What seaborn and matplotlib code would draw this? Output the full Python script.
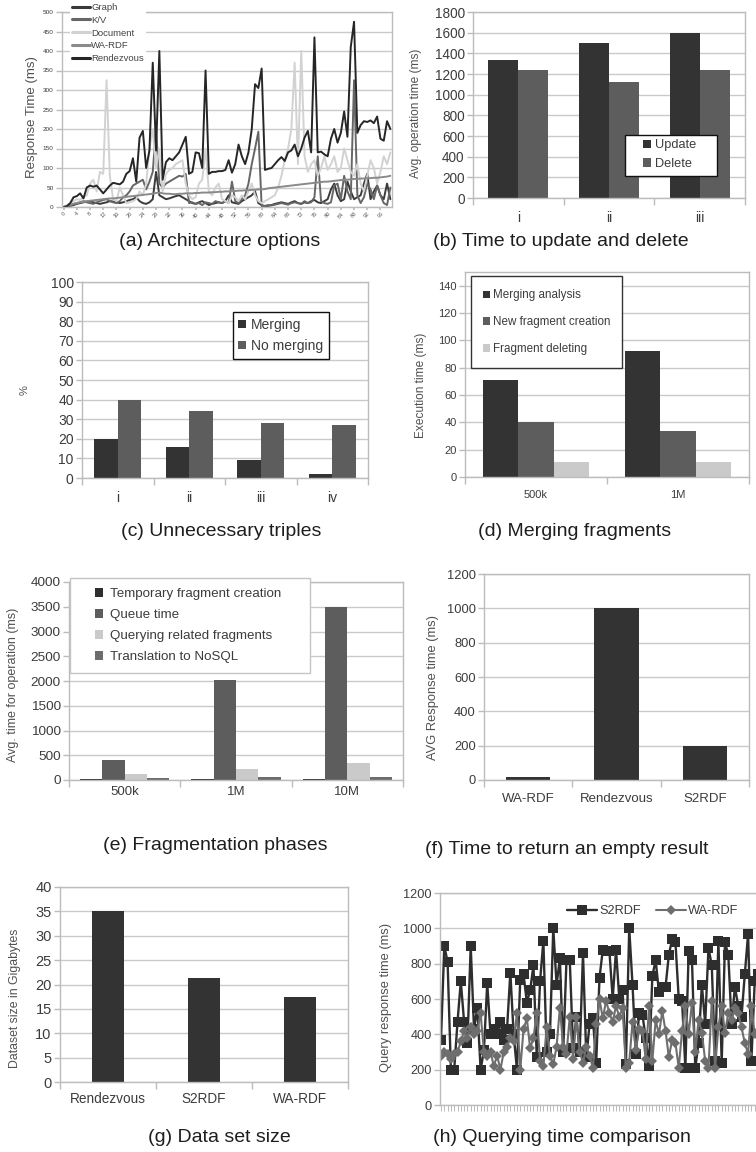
import numpy as np
import pandas as pd
import matplotlib
matplotlib.use("Agg")
import matplotlib.pyplot as plt
from matplotlib.patches import Rectangle
import seaborn as sns

# ---------------- data ----------------
# (a) Architecture options: response time per query (ms)
arch_series = ["Graph", "K/V", "Document", "WA-RDF", "Rendezvous"]
graph_ms = [0, 1, 3, 5, 8, 10, 12, 14, 15, 12,
            10, 8, 10, 12, 15, 14, 12, 10, 12, 15,
            18, 20, 25, 15, 10, 8, 12, 20, 90, 30,
            25, 20, 22, 25, 28, 30, 25, 20, 15, 10,
            8, 12, 15, 10, 5, 8, 10, 12, 10, 15,
            30, 12, 10, 8, 15, 20, 25, 30, 40, 10,
            5, 2, 3, 5, 8, 10, 12, 10, 8, 12,
            15, 10, 8, 12, 10, 15, 18, 12, 10, 15,
            20, 45, 60, 30, 15, 20, 65, 40, 20, 25,
            30, 60, 85, 20, 40, 55, 30, 20, 60, 20]
kv_ms = [0, 2, 5, 8, 10, 12, 15, 12, 10, 8,
         12, 15, 18, 20, 15, 12, 10, 15, 25, 30,
         40, 55, 60, 65, 70, 45, 65, 90, 200, 60,
         50, 60, 65, 70, 75, 80, 78, 85, 10, 12,
         8, 10, 5, 12, 10, 8, 15, 12, 10, 15,
         10, 65, 15, 10, 20, 30, 60, 110, 150, 193,
         2, 3, 5, 4, 6, 8, 10, 8, 6, 10,
         12, 10, 8, 15, 10, 12, 25, 130, 15, 10,
         8, 12, 55, 60, 20, 80, 40, 20, 325, 30,
         10, 25, 60, 45, 20, 55, 30, 10, 5, 50]
document_ms = [0, 5, 10, 15, 20, 18, 25, 30, 60, 70,
               40, 90, 85, 325, 80, 20, 15, 50, 30, 10,
               12, 15, 20, 40, 30, 60, 150, 200, 100, 150,
               40, 85, 95, 100, 110, 115, 120, 60, 30, 20,
               25, 60, 70, 150, 40, 30, 50, 60, 20, 15,
               10, 30, 25, 15, 30, 20, 40, 60, 30, 15,
               10, 15, 20, 25, 30, 50, 80, 120, 150, 200,
               370, 110, 400, 130, 90, 110, 120, 80, 100, 130,
               95, 110, 130, 90, 100, 150, 120, 90, 80, 110,
               60, 40, 80, 120, 100, 60, 90, 130, 110, 140]
wardf_arch_ms = [0, 2, 5, 8, 10, 12, 13, 15, 16, 17,
                 18, 19, 20, 21, 22, 22, 23, 24, 25, 26,
                 27, 28, 29, 30, 31, 32, 33, 34, 36, 37,
                 35, 34, 34, 33, 33, 34, 34, 35, 35, 35,
                 36, 36, 37, 37, 37, 38, 38, 39, 39, 40,
                 40, 41, 41, 42, 42, 43, 43, 44, 44, 45,
                 45, 46, 48, 49, 50, 51, 52, 53, 54, 55,
                 56, 57, 58, 59, 60, 61, 62, 63, 64, 65,
                 65, 66, 67, 68, 69, 70, 70, 71, 72, 72,
                 73, 73, 74, 74, 75, 75, 76, 77, 78, 80]
rendezvous_ms = [0, 2, 10, 25, 28, 35, 22, 50, 55, 52,
                 55, 45, 35, 45, 55, 62, 60, 58, 65, 85,
                 92, 125, 65, 178, 195, 100, 145, 370, 145, 400,
                 70, 115, 125, 120, 130, 140, 160, 180, 85, 90,
                 140, 138, 100, 350, 85, 90, 90, 92, 92, 95,
                 120, 88, 110, 160, 130, 110, 140, 200, 315, 305,
                 355, 95, 98, 100, 110, 120, 128, 118, 140, 145,
                 160, 130, 150, 178, 195, 140, 435, 140, 142, 135,
                 130, 175, 200, 165, 190, 245, 180, 410, 475, 190,
                 210, 220, 218, 222, 215, 232, 175, 170, 220, 200]

# (b) Time to update and delete
ops_cats = ["i", "ii", "iii"]
update_ms = [1340, 1500, 1600]
delete_ms = [1235, 1125, 1235]

# (c) Unnecessary triples
triple_cats = ["i", "ii", "iii", "iv"]
merging_pct = [20, 16, 9, 2]
no_merging_pct = [40, 34, 28, 27]

# (d) Merging fragments
merge_sizes = ["500k", "1M"]
merging_analysis_ms = [71, 92]
new_fragment_ms = [40, 34]
fragment_deleting_ms = [11, 11]

# (e) Fragmentation phases
frag_sizes = ["500k", "1M", "10M"]
temp_fragment_ms = [20, 20, 25]
queue_ms = [400, 2020, 3500]
querying_related_ms = [120, 230, 350]
translation_ms = [50, 60, 55]

# (f) Time to return an empty result
empty_systems = ["WA-RDF", "Rendezvous", "S2RDF"]
empty_ms = [20, 1000, 200]

# (g) Data set size
size_systems = ["Rendezvous", "S2RDF", "WA-RDF"]
size_gb = [35, 21.3, 17.4]

# (h) Querying time comparison
s2rdf_ms = [370, 900, 810, 200, 200, 470, 700, 470, 350, 900,
            430, 550, 200, 310, 690, 400, 430, 400, 470, 370,
            430, 750, 400, 200, 710, 740, 580, 650, 790, 270,
            700, 930, 300, 400, 1000, 680, 830, 300, 820, 820,
            320, 500, 300, 860, 270, 460, 490, 240, 720, 880,
            870, 870, 600, 880, 600, 650, 230, 1000, 680, 290,
            520, 510, 380, 220, 730, 820, 640, 670, 670, 850,
            940, 920, 600, 590, 210, 870, 820, 210, 350, 680,
            460, 890, 790, 250, 930, 240, 920, 850, 460, 670,
            560, 500, 740, 970, 250, 700, 740]
wardf_ms = [280, 300, 290, 260, 290, 300, 360, 420, 380, 440,
            400, 420, 520, 300, 280, 300, 220, 280, 200, 300,
            330, 380, 360, 520, 200, 430, 490, 320, 380, 520,
            250, 220, 440, 280, 230, 330, 550, 330, 290, 500,
            260, 500, 300, 240, 330, 280, 210, 460, 600, 490,
            590, 520, 470, 560, 500, 550, 210, 240, 470, 310,
            430, 420, 260, 560, 250, 480, 400, 530, 420, 270,
            370, 350, 210, 420, 560, 400, 580, 300, 480, 410,
            250, 210, 590, 210, 440, 560, 410, 520, 480, 550,
            520, 440, 350, 290, 560, 400, 420]

# ---------------- style ----------------
sns.set_theme(style="white")
plt.rcParams["font.family"] = ["Liberation Sans", "DejaVu Sans"]

W, H = 756, 1152
fig = plt.figure(figsize=(W / 100, H / 100), dpi=100)
fig.patch.set_facecolor("white")

GRID = "#cacaca"
FRAME = "#bcbcbc"
TXT = "#3c3c3c"
DARK = "#333333"
MID = "#5d5d5d"
LIGHT = "#cacaca"


def px_axes(x0, y0, x1, y1):
    return fig.add_axes([x0 / W, 1 - y1 / H, (x1 - x0) / W, (y1 - y0) / H])


def y_style(ax, ymax, yticks, fs):
    ax.set_ylim(0, ymax)
    ax.set_yticks(yticks)
    ax.yaxis.grid(True, color=GRID, lw=1)
    ax.xaxis.grid(False)
    ax.set_axisbelow(True)
    for s in ax.spines.values():
        s.set_color(FRAME)
        s.set_linewidth(1)
    ax.tick_params(axis="y", left=True, length=4, width=1, color=FRAME,
                   labelsize=fs, labelcolor=TXT, pad=2)


def cat_axis(ax, n, fs, pad):
    ax.set_xlim(-0.5, n - 0.5)
    ax.set_xticks(np.arange(-0.5, n), minor=True)
    ax.tick_params(axis="x", which="minor", bottom=True, length=5, width=1,
                   color=FRAME)
    ax.tick_params(axis="x", which="major", bottom=False, length=0,
                   labelsize=fs, labelcolor=TXT, pad=pad)
    ax.set_xlabel("")


def ylabel_at(ax, text, fs, xc, yc, box):
    x0, y0, x1, y1 = box
    ax.set_ylabel(text, fontsize=fs, color="#505050", va="center")
    ax.yaxis.set_label_coords((xc - x0) / (x1 - x0), (y1 - yc) / (y1 - y0))


def grouped_bars(ax, cats, names, values, colors, width):
    rows = [(c, nm, v) for nm, vals in zip(names, values) for c, v in zip(cats, vals)]
    df = pd.DataFrame(rows, columns=["cat", "series", "val"])
    sns.barplot(data=df, x="cat", y="val", hue="series", order=cats,
                hue_order=names, palette=colors, width=width, saturation=1,
                edgecolor="none", linewidth=0, errorbar=None, ax=ax)


def box_legend(ax, frame_px, marker_x, center_y, fs, row_px, mark_px, text_gap,
               edge, lw=1.0):
    """Square-marker legend inside a hand-placed rectangular frame (pixel units)."""
    old = ax.get_legend()
    handles = old.legend_handles
    labels = [t.get_text() for t in old.get_texts()]
    fs_px = fs * 100 / 72
    leg = ax.legend(handles, labels, loc="center left",
                    bbox_to_anchor=(marker_x / W, 1 - center_y / H),
                    bbox_transform=fig.transFigure, fontsize=fs, frameon=False,
                    handlelength=mark_px / fs_px, handleheight=mark_px / fs_px,
                    handletextpad=text_gap / fs_px,
                    labelspacing=max(row_px - fs_px, 0) / fs_px,
                    borderpad=0, borderaxespad=0)
    for t in leg.get_texts():
        t.set_color(TXT)
    leg.set_zorder(6)
    x0, y0, x1, y1 = frame_px
    ax.add_patch(Rectangle((x0 / W, 1 - y1 / H), (x1 - x0) / W, (y1 - y0) / H,
                           transform=fig.transFigure, facecolor="white",
                           edgecolor=edge, lw=lw, zorder=5.5, clip_on=False))


def caption(x, y, text):
    fig.text(x / W, 1 - y / H, text, ha="center", va="center",
             fontsize=14, color="#1e1e1e")


# ---------------- (a) ----------------
box = (62, 12, 392, 207)
ax = px_axes(*box)
idx = np.arange(len(rendezvous_ms))
arch_values = [graph_ms, kv_ms, document_ms, wardf_arch_ms, rendezvous_ms]
arch_colors = ["#3a3a3a", "#666666", "#d2d2d2", "#8a8a8a", "#262626"]
for name, vals, col in zip(arch_series, arch_values, arch_colors):
    sns.lineplot(x=idx, y=vals, color=col, lw=1.4, label=name, ax=ax)
y_style(ax, 500, np.arange(0, 501, 50), 4.6)
ax.set_xlim(-0.5, len(idx) - 0.5)
ax.set_xticks(np.arange(0, len(idx), 4))
ax.set_xticklabels([str(i) for i in range(0, len(idx), 4)], rotation=45,
                   fontsize=4, color="#555555")
ax.tick_params(axis="x", bottom=True, length=2, color=FRAME, pad=1)
ax.set_xlabel("")
ylabel_at(ax, "Response Time (ms)", 9.5, 32, 117, box)
h, l = ax.get_legend_handles_labels()
leg = ax.legend(h, l, loc="center left", bbox_to_anchor=(70 / W, 1 - 33 / H),
                bbox_transform=fig.transFigure, fontsize=6.8, frameon=True,
                fancybox=False, edgecolor="none", facecolor="white", framealpha=1,
                handlelength=1.9, handletextpad=0.15, labelspacing=0.4,
                borderpad=0.2, borderaxespad=0)
for line in leg.get_lines():
    line.set_linewidth(2.2)
for t in leg.get_texts():
    t.set_color("#444444")
caption(220, 241, "(a) Architecture options")

# ---------------- (b) ----------------
box = (473, 12, 745, 198)
ax = px_axes(*box)
grouped_bars(ax, ops_cats, ["Update", "Delete"], [update_ms, delete_ms],
             [DARK, MID], 0.66)
y_style(ax, 1800, np.arange(0, 1801, 200), 9.8)
cat_axis(ax, len(ops_cats), 10, 9)
ylabel_at(ax, "Avg. operation time (ms)", 8.6, 416, 113, box)
box_legend(ax, (625, 135, 717, 176), 643, 154.7, 9.2, 19.3, 8, 4, "#111111")
caption(561, 242, "(b) Time to update and delete")

# ---------------- (c) ----------------
box = (82, 282, 368, 478)
ax = px_axes(*box)
grouped_bars(ax, triple_cats, ["Merging", "No merging"],
             [merging_pct, no_merging_pct], [DARK, MID], 0.66)
y_style(ax, 100, np.arange(0, 101, 10), 10)
cat_axis(ax, len(triple_cats), 10, 9)
ylabel_at(ax, "%", 8, 25, 390, box)
box_legend(ax, (233, 312, 329, 359), 238, 335.5, 10, 21, 8, 5, "#111111")
caption(221, 531, "(c) Unnecessary triples")

# ---------------- (d) ----------------
box = (465, 272, 749, 477)
ax = px_axes(*box)
grouped_bars(ax, merge_sizes,
             ["Merging analysis", "New fragment creation", "Fragment deleting"],
             [merging_analysis_ms, new_fragment_ms, fragment_deleting_ms],
             [DARK, MID, LIGHT], 0.74)
y_style(ax, 150, np.arange(0, 141, 20), 8)
cat_axis(ax, len(merge_sizes), 8, 9)
ylabel_at(ax, "Execution time (ms)", 8.6, 421, 385, box)
box_legend(ax, (471, 276, 622, 368), 483, 322.3, 8.4, 26.5, 7, 3, "#333333")
caption(575, 531, "(d) Merging fragments")

# ---------------- (e) ----------------
box = (69, 582, 403, 780)
ax = px_axes(*box)
grouped_bars(ax, frag_sizes,
             ["Temporary fragment creation", "Queue time",
              "Querying related fragments", "Translation to NoSQL"],
             [temp_fragment_ms, queue_ms, querying_related_ms, translation_ms],
             ["#2e2e2e", MID, LIGHT, "#6c6c6c"], 0.8)
y_style(ax, 4000, np.arange(0, 4001, 500), 9.7)
cat_axis(ax, len(frag_sizes), 9.5, 4)
ylabel_at(ax, "Avg. time for operation (ms)", 9, 13, 685, box)
box_legend(ax, (70, 578, 310, 673), 95, 625.7, 9.6, 22.2, 8, 7, "#c4c4c4")
caption(215, 846, "(e) Fragmentation phases")

# ---------------- (f) ----------------
box = (484, 574, 749, 780)
ax = px_axes(*box)
sns.barplot(x=empty_systems, y=empty_ms, color=DARK, saturation=1, width=0.5,
            edgecolor="none", linewidth=0, errorbar=None, ax=ax)
y_style(ax, 1200, np.arange(0, 1201, 200), 9.3)
cat_axis(ax, len(empty_systems), 9.5, 9)
ylabel_at(ax, "AVG Response time (ms)", 9.3, 433, 687, box)
caption(567, 849, "(f) Time to return an empty result")

# ---------------- (g) ----------------
box = (60, 887, 348, 1082)
ax = px_axes(*box)
sns.barplot(x=size_systems, y=size_gb, color=DARK, saturation=1, width=0.33,
            edgecolor="none", linewidth=0, errorbar=None, ax=ax)
y_style(ax, 40, np.arange(0, 41, 5), 10.5)
cat_axis(ax, len(size_systems), 9.8, 7)
ylabel_at(ax, "Dataset size in Gigabytes", 8.8, 15, 998, box)
caption(219, 1137, "(g) Data set size")

# ---------------- (h) ----------------
box = (440, 893, 866, 1105)
ax = px_axes(*box)
qidx = np.arange(len(s2rdf_ms))
sns.lineplot(x=qidx, y=s2rdf_ms, color="#2e2e2e", lw=1.7, marker="s",
             markersize=6.8, markeredgecolor="#2e2e2e", markeredgewidth=0,
             label="S2RDF", ax=ax)
sns.lineplot(x=qidx, y=wardf_ms, color="#6e6e6e", lw=1.5, marker="D",
             markersize=4.6, markeredgecolor="#6e6e6e", markeredgewidth=0,
             label="WA-RDF", ax=ax)
y_style(ax, 1200, np.arange(0, 1201, 200), 9.2)
ax.set_xlim(-0.3, 128.7)
ax.set_xticks(np.arange(0, 129))
ax.set_xticklabels([])
ax.tick_params(axis="x", bottom=True, length=4, width=0.6, color="#b0b0b0")
ax.set_xlabel("")
ylabel_at(ax, "Query response time (ms)", 9.3, 386, 997, box)
h, l = ax.get_legend_handles_labels()
leg = ax.legend(h, l, loc="center", bbox_to_anchor=(653 / W, 1 - 911 / H),
                bbox_transform=fig.transFigure, ncol=2, fontsize=9.2,
                frameon=False, handlelength=2.3, handletextpad=0.2,
                columnspacing=1.2)
for t in leg.get_texts():
    t.set_color(TXT)
caption(562, 1137, "(h) Querying time comparison")

fig.savefig("out.png", dpi=100, facecolor="white")
